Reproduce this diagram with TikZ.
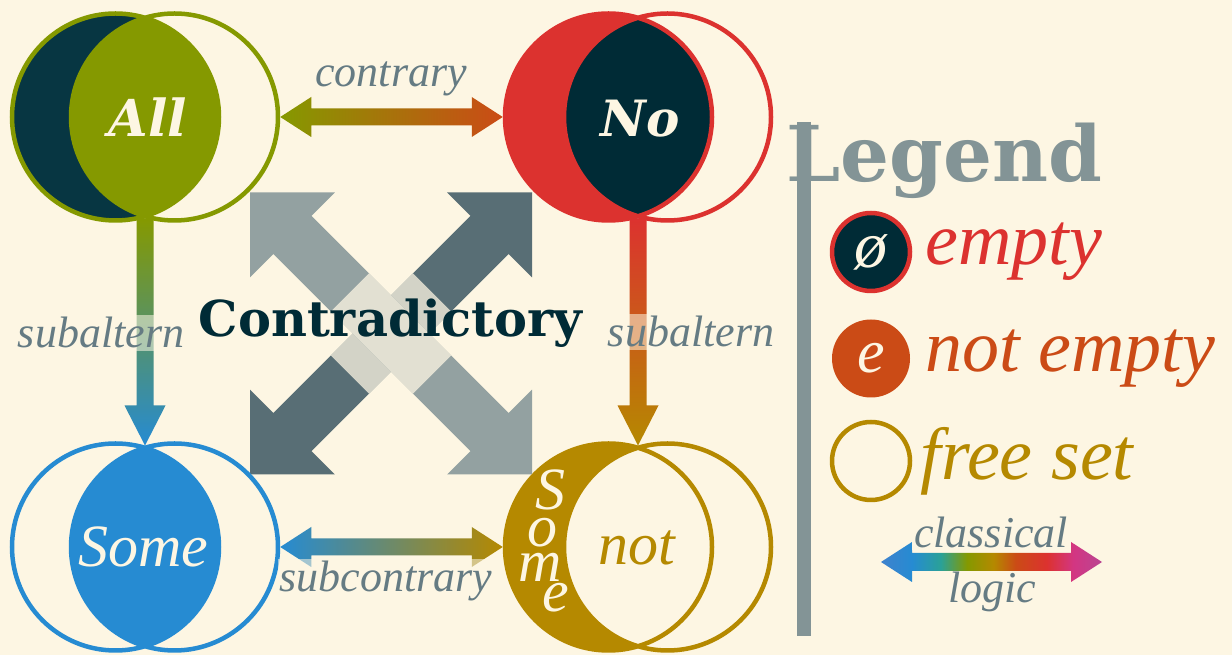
\documentclass[tikz,border=0pt]{standalone}
\usepackage{fontspec}
\setmainfont{Liberation Serif}
\newfontfamily\slabfont{DejaVu Serif}
\usetikzlibrary{positioning,calc}
\definecolor{SolBase03}{HTML}{002B36}
\definecolor{SolBase02}{HTML}{073642}
\definecolor{SolBase01}{HTML}{586E75}
\definecolor{SolBase00}{HTML}{657B83}
\definecolor{SolBase0}{HTML}{839496}
\definecolor{SolBase1}{HTML}{93A1A1}
\definecolor{SolBase3}{HTML}{FDF6E3}
\definecolor{SolYellow}{HTML}{B58900}
\definecolor{SolOrange}{HTML}{CB4B16}
\definecolor{SolRed}{HTML}{DC322F}
\definecolor{SolMagenta}{HTML}{D33682}
\definecolor{SolViolet}{HTML}{6C71C4}
\definecolor{SolBlue}{HTML}{268BD2}
\definecolor{SolCyan}{HTML}{2AA198}
\definecolor{SolGreen}{HTML}{859900}
\colorlet{RainbowStart}{SolBlue!65!SolViolet}
\colorlet{RainbowEnd}{SolMagenta!75!SolViolet}
\pgfdeclarehorizontalshading{rainbow}{100bp}{color(0bp)=(RainbowStart); color(25bp)=(RainbowStart); color(32bp)=(SolBlue); color(38.5bp)=(SolCyan); color(44.5bp)=(SolGreen); color(50.5bp)=(SolYellow); color(55.5bp)=(SolOrange); color(62.5bp)=(SolRed); color(68.5bp)=(SolMagenta); color(75bp)=(RainbowEnd); color(100bp)=(RainbowEnd)}
\tikzset{
	venn/.style={circle,minimum size=207pt,inner sep=0pt,outer sep=2.25pt},ring/.style={line width=4.5pt},
	word/.style={anchor=base,inner sep=0pt,text=SolBase3,font=\itshape\fontsize{60}{60}\selectfont},
	lbl/.style={anchor=base,inner sep=2pt,text=SolBase00,fill=SolBase3,fill opacity=0.55,text opacity=1,font=\itshape\fontsize{44}{44}\selectfont},
	legdot/.style={circle,minimum size=78pt,inner sep=0pt,outer sep=2.25pt,line width=4.5pt},legtxt/.style={anchor=base west,inner sep=0pt,font=\itshape\fontsize{74}{74}\selectfont}
}

\begin{document}
\begin{tikzpicture}[x=1pt,y=1pt]
		\useasboundingbox (0,0) rectangle (1232,655);
		\fill[SolBase3] (0,0) rectangle (1232,655);
		% contradictory cross
		\coordinate (X) at (391,321.5);
		\foreach \ang/\col in {45/SolBase01,-45/SolBase1}{
			\begin{scope}[shift={(X)},rotate=\ang]
				\fill[\col] (-199.4,0) -- (-139.4,60) -- (-139.4,27) -- (139.4,27) -- (139.4,60) -- (199.4,0) -- (139.4,-60) -- (139.4,-27) -- (-139.4,-27) -- (-139.4,-60) -- cycle;
				\fill[SolBase3,fill opacity=0.75] (-58,-27) rectangle (58,27);
			\end{scope}
		}
		% the four statements
		\node[venn,fill=SolBase02] (allL) at (115.5,538) {};
		\node[venn] (allR) at (174.5,538) {};
		\node[venn,fill=SolRed] (noL) at (608.5,538) {};
		\node[venn] (noR) at (667.5,538) {};
		\node[venn] (someL) at (115.5,108) {};
		\node[venn] (someR) at (174.5,108) {};
		\node[venn,fill=SolYellow] (notL) at (608.5,108) {};
		\node[venn] (notR) at (667.5,108) {};
		\coordinate (allBot) at ($(allL.center)!.5!(allR.center)+(0,-101.5)$);
		\coordinate (someTop) at ($(someL.center)!.5!(someR.center)+(0,101.5)$);
		\coordinate (noBot) at ($(noL.center)!.5!(noR.center)+(0,-101.5)$);
		\coordinate (notTop) at ($(notL.center)!.5!(notR.center)+(0,101.5)$);
		% relations
		\shade[left color=SolGreen,right color=SolOrange] (allR.east) -- ++(31,20) -- ++(0,-11.5) -- ($(noL.west)+(-31,8.5)$) -- ++(0,11.5) -- (noL.west) -- ++(-31,-20) -- ++(0,11.5) -- ($(allR.east)+(31,-8.5)$) -- ++(0,-11.5) -- cycle;
		\shade[left color=SolBlue,right color=SolYellow] (someR.east) -- ++(31,20) -- ++(0,-11.5) -- ($(notL.west)+(-31,8.5)$) -- ++(0,11.5) -- (notL.west) -- ++(-31,-20) -- ++(0,11.5) -- ($(someR.east)+(31,-8.5)$) -- ++(0,-11.5) -- cycle;
		\shade[top color=SolGreen,bottom color=SolBlue] ($(allBot)+(-8.5,0)$) -- ($(someTop)+(-8.5,40)$) -- ++(-12,0) -- (someTop) -- ++(20.5,40) -- ++(-12,0) -- ($(allBot)+(8.5,0)$) -- cycle;
		\shade[top color=SolRed,bottom color=SolYellow] ($(noBot)+(-8.5,0)$) -- ($(notTop)+(-8.5,40)$) -- ++(-12,0) -- (notTop) -- ++(20.5,40) -- ++(-12,0) -- ($(noBot)+(8.5,0)$) -- cycle;
		% lenses and rings
		\begin{scope}
			\clip (allL.center) circle (103.5);
			\fill[SolGreen] (allR.center) circle (103.5);
		\end{scope}
		\begin{scope}
			\clip (noL.center) circle (103.5);
			\fill[SolBase03] (noR.center) circle (103.5);
		\end{scope}
		\begin{scope}
			\clip (someL.center) circle (103.5);
			\fill[SolBlue] (someR.center) circle (103.5);
		\end{scope}
		\begin{scope}
			\clip (notL.center) circle (103.5);
			\fill[SolBase3] (notR.center) circle (103.5);
		\end{scope}
		\draw[ring,SolGreen] (allL.center) circle (103.5) (allR.center) circle (103.5);
		\draw[ring,SolRed] (noL.center) circle (103.5) (noR.center) circle (103.5);
		\draw[ring,SolBlue] (someL.center) circle (103.5) (someR.center) circle (103.5);
		\draw[ring,SolYellow] (notL.center) circle (103.5) (notR.center) circle (103.5);
		\node[word,font=\slabfont\bfseries\itshape\fontsize{51}{51}\selectfont] (all) at (148,518) {All};
		\node[word,font=\slabfont\bfseries\itshape\fontsize{50}{50}\selectfont] (no) at (640,518) {No};
		\node[word] (some) at (143,88) {Some};
		\node[word,text=SolYellow] (not) at (637,90) {not};
		\foreach \ch/\px/\py in {S/550/145,o/542/108,m/540/73,e/556/43}
			\node[word] (vert\ch) at (\px,\py) {\ch};
		% labels
		\node[lbl] (contrLbl) at (391,568) {contrary};
		\node[lbl] (subLbl) at (101,307) {subaltern};
		\node[lbl] (subRbl) at (691,308) {subaltern};
		\node[lbl] (subcLbl) at (386,63) {subcontrary};
		\node[anchor=base,inner sep=0pt,text=SolBase03,font=\slabfont\bfseries\fontsize{49.5}{49.5}\selectfont] (contra) at (390.5,318) {Contradictory};
		% legend
		\draw[SolBase0,line width=14pt] (804,533) -- (804,19);
		\node[anchor=base west,inner sep=0pt,text=SolBase0,font=\slabfont\bfseries\fontsize{77}{77}\selectfont] (legend) at (786,473) {Legend};
		\node[legdot,fill=SolBase03,draw=SolRed,text=SolBase3,font=\itshape\fontsize{66}{66}\selectfont] (emptyDot) at (871,403) {ø};
		\node[legdot,fill=SolOrange,text=SolBase3,font=\itshape\fontsize{62}{62}\selectfont] (fullDot) at (871,296.5) {e};
		\node[legdot,draw=SolYellow] (freeDot) at (871,194) {};
		\node[legtxt,text=SolRed] (emptyTxt) at ($(emptyDot.east)+(13,-13)$) {empty};
		\node[legtxt,text=SolOrange] (fullTxt) at ($(fullDot.east)+(13,-13.5)$) {not empty};
		\node[legtxt,text=SolYellow] (freeTxt) at ($(freeDot.east)+(8,-19)$) {free set};
		\coordinate (rainL) at (881,93);
		\coordinate (rainR) at (1102,93);
		\shade[shading=rainbow] (rainL) -- ++(31,20) -- ++(0,-11) -- ($(rainR)+(-31,9)$) -- ++(0,11) -- (rainR) -- ++(-31,-20) -- ++(0,11) -- ($(rainL)+(31,-9)$) -- ++(0,-11) -- cycle;
		\node[lbl,fill opacity=1] (classLbl) at (991,107) {classical};
		\node[lbl,fill=none] (logicLbl) at (992,52) {logic};
\end{tikzpicture}
\end{document}
